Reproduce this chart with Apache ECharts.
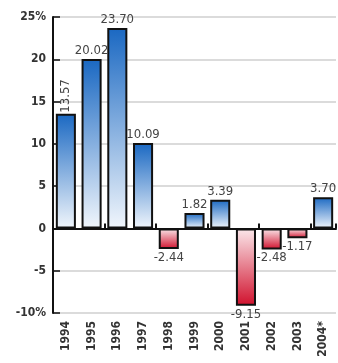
<!DOCTYPE html>
<html>
<head>
<meta charset="utf-8">
<script src="https://cdn.jsdelivr.net/npm/echarts@6/dist/echarts.min.js"></script>
<style>
  html, body { margin: 0; padding: 0; background: #fff; }
  #main { width: 338px; height: 363px; }
</style>
</head>
<body>
<div id="main"></div>
<script>
// 年份
var years = ['1994', '1995', '1996', '1997', '1998', '1999', '2000', '2001', '2002', '2003', '2004*'];
// 每年数值 (%)
var values = [13.57, 20.02, 23.70, 10.09, -2.44, 1.82, 3.39, -9.15, -2.48, -1.17, 3.70];
// y轴刻度
var yMin = -10, yMax = 25, yStep = 5;

var font = "'Liberation Sans Narrow', 'DejaVu Sans Condensed', 'Roboto', sans-serif";

var blueFill = new echarts.graphic.LinearGradient(0, 0, 0, 1, [
  { offset: 0, color: '#1a68c2' },
  { offset: 1, color: '#f1f6fc' }
]);
var redFill = new echarts.graphic.LinearGradient(0, 0, 0, 1, [
  { offset: 0, color: '#fbe9ec' },
  { offset: 1, color: '#d0102c' }
]);

var barData = values.map(function (v, i) {
  var item = {
    value: v,
    itemStyle: { color: v >= 0 ? blueFill : redFill },
    label: { position: v >= 0 ? 'top' : 'bottom' }
  };
  // 1994 标签竖排
  if (i === 0) {
    item.label = { position: 'top', rotate: 90, align: 'left', verticalAlign: 'middle', distance: 1 };
  }
  return item;
});

var myChart = echarts.init(document.getElementById('main'));
myChart.setOption({
  animation: false,
  backgroundColor: '#fff',
  grid: { left: 53, right: 2, top: 17, bottom: 50 },
  xAxis: [
    {
      type: 'category',
      data: years,
      position: 'bottom',
      axisLine: { onZero: true, lineStyle: { color: '#111', width: 2 } },
      axisTick: { show: true, inside: true, length: 5, lineStyle: { color: '#111', width: 2 } },
      axisLabel: { show: false }
    },
    {
      type: 'category',
      data: years,
      position: 'bottom',
      axisLine: { show: false, onZero: false },
      axisTick: { show: false },
      axisLabel: {
        rotate: 90,
        margin: 8,
        color: '#333',
        fontSize: 12,
        fontFamily: font,
        fontWeight: 'bold',
        interval: 0
      }
    }
  ],
  yAxis: {
    type: 'value',
    min: yMin,
    max: yMax,
    interval: yStep,
    axisLine: { show: true, lineStyle: { color: '#111', width: 2 } },
    axisTick: { show: true, inside: true, length: 7, lineStyle: { color: '#111', width: 1.5 } },
    axisLabel: {
      margin: 7,
      color: '#333',
      fontSize: 12,
      fontFamily: font,
      fontWeight: 'bold',
      formatter: function (v) {
        return (v === yMax || v === yMin) ? v + '%' : String(v);
      }
    },
    splitLine: { show: true, lineStyle: { color: '#cfcfcf', width: 1.5 } }
  },
  series: [
    {
      type: 'bar',
      xAxisIndex: 0,
      data: barData,
      barWidth: '78%',
      itemStyle: { borderColor: '#111', borderWidth: 2 },
      label: {
        show: true,
        distance: 2,
        color: '#444',
        fontSize: 13,
        fontFamily: font,
        formatter: function (p) { return p.value.toFixed(2); }
      }
    }
  ]
});
</script>
</body>
</html>
